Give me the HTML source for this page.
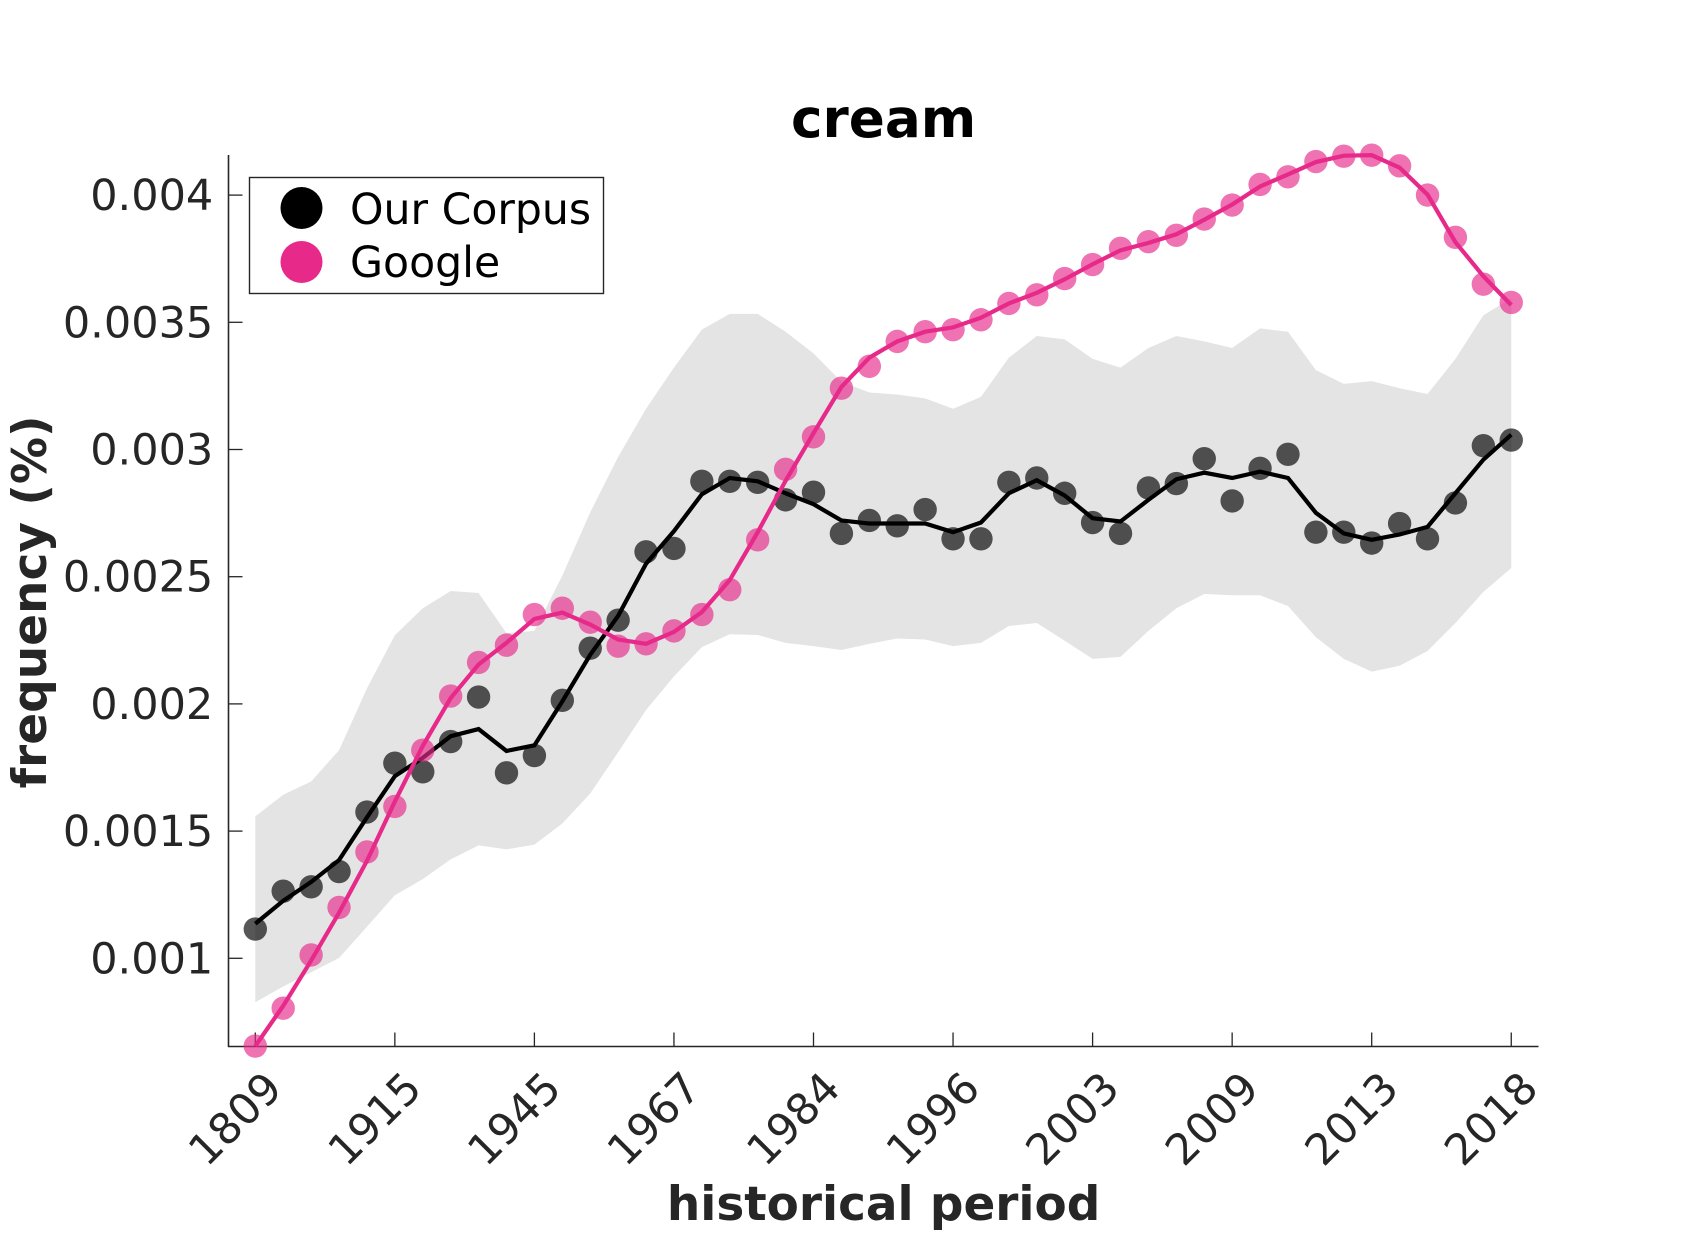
<!DOCTYPE html>
<html>
<head>
<meta charset="utf-8">
<title>cream</title>
<style>
html,body{margin:0;padding:0;background:#fff;width:1700px;height:1246px;overflow:hidden}
svg{display:block}
text{font-family:"DejaVu Sans","Liberation Sans",sans-serif}
</style>
</head>
<body>
<svg id="chart" xmlns="http://www.w3.org/2000/svg" width="1700" height="1246" viewBox="0 0 1700 1246">
<rect x="0" y="0" width="1700" height="1246" fill="#ffffff"/>
<g id="band-layer"></g>
<g id="axes"></g>
<g id="corpus-dots"></g>
<g id="corpus-line-layer"></g>
<g id="google-dots"></g>
<g id="google-line-layer"></g>
<text x="883.6" y="137" text-anchor="middle" font-size="53.2" font-weight="700" fill="#000000">cream</text>
<text x="883.6" y="1220" text-anchor="middle" font-size="46.9" font-weight="700" fill="#262626">historical period</text>
<text transform="translate(46 602) rotate(-90)" text-anchor="middle" font-size="47" font-weight="700" fill="#262626">frequency (%)</text>
<g>
<rect x="249.5" y="177.5" width="354" height="116" fill="#ffffff" stroke="#262626" stroke-width="1.4"/>
<circle cx="301.5" cy="208" r="21" fill="#000000"/>
<text x="350" y="224" font-size="42.6" fill="#000000">Our Corpus</text>
<circle cx="301.5" cy="262" r="21" fill="#e7298a"/>
<text x="350" y="277" font-size="42.6" fill="#000000">Google</text>
</g>
</svg>
<script>
const periodLabels = ["1809","1915","1945","1967","1984","1996","2003","2009","2013","2018"];
const yTickValues = [0.001,0.0015,0.002,0.0025,0.003,0.0035,0.004];
const yTickLabels = ["0.001","0.0015","0.002","0.0025","0.003","0.0035","0.004"];
const corpusPoints = [1.115,1.264,1.281,1.341,1.575,1.767,1.733,1.852,2.027,1.729,1.797,2.014,2.219,2.329,2.598,2.611,2.875,2.875,2.871,2.802,2.832,2.670,2.721,2.700,2.764,2.649,2.649,2.871,2.888,2.828,2.713,2.670,2.849,2.866,2.964,2.798,2.926,2.981,2.675,2.675,2.632,2.709,2.649,2.790,3.015,3.037];
const corpusSmooth = [1.136,1.226,1.300,1.386,1.554,1.716,1.788,1.873,1.901,1.815,1.837,2.010,2.193,2.346,2.551,2.679,2.824,2.888,2.875,2.828,2.785,2.721,2.709,2.709,2.709,2.675,2.713,2.828,2.879,2.819,2.730,2.717,2.802,2.883,2.909,2.888,2.913,2.888,2.751,2.670,2.645,2.666,2.696,2.828,2.960,3.058];
const googlePoints = [0.655,0.804,1.013,1.200,1.418,1.597,1.818,2.031,2.163,2.231,2.351,2.376,2.321,2.227,2.236,2.287,2.351,2.449,2.645,2.922,3.050,3.241,3.327,3.425,3.463,3.471,3.510,3.574,3.608,3.672,3.727,3.791,3.817,3.842,3.906,3.961,4.042,4.072,4.132,4.153,4.157,4.115,4.000,3.834,3.650,3.578];
const googleSmooth = [0.655,0.813,0.991,1.179,1.383,1.616,1.835,2.023,2.155,2.240,2.334,2.359,2.312,2.253,2.236,2.283,2.361,2.487,2.675,2.877,3.064,3.246,3.361,3.425,3.463,3.480,3.518,3.574,3.616,3.669,3.728,3.783,3.812,3.846,3.903,3.963,4.034,4.081,4.130,4.155,4.157,4.108,4.002,3.815,3.681,3.568];
const bandUpper = [1.558,1.643,1.695,1.818,2.061,2.270,2.376,2.444,2.436,2.278,2.287,2.504,2.753,2.971,3.160,3.322,3.471,3.533,3.533,3.463,3.378,3.267,3.224,3.216,3.201,3.160,3.207,3.361,3.446,3.433,3.356,3.322,3.399,3.446,3.425,3.399,3.476,3.463,3.312,3.258,3.269,3.241,3.218,3.356,3.527,3.595];
const bandLower = [0.827,0.889,0.945,1.001,1.124,1.248,1.311,1.389,1.444,1.428,1.447,1.530,1.648,1.810,1.976,2.108,2.223,2.274,2.271,2.240,2.227,2.212,2.236,2.257,2.253,2.227,2.240,2.306,2.318,2.248,2.177,2.185,2.287,2.376,2.432,2.427,2.427,2.385,2.262,2.177,2.127,2.150,2.208,2.318,2.440,2.534];

const NS = "http://www.w3.org/2000/svg";
const xOf = function (i) { return 255.3 + i * 27.91; };
const yOf = function (milli) { return 958.3 - (milli - 1) * 254.4; };
const yOfRaw = function (v) { return yOf(v * 1000); };
const layer = function (id) { return document.getElementById(id); };
const make = function (tag, parent) {
  const el = document.createElementNS(NS, tag);
  parent.appendChild(el);
  return el;
};
const toPath = function (arr) {
  return arr.map(function (v, i) { return xOf(i).toFixed(2) + "," + yOf(v).toFixed(2); }).join(" ");
};

const band = make("polygon", layer("band-layer"));


const bandBack = bandLower.slice().map(function (v, i) { return xOf(i).toFixed(2) + "," + yOf(v).toFixed(2); }).reverse().join(" ");
band.setAttribute("points", toPath(bandUpper) + " " + bandBack);
band.setAttribute("fill", "#e4e4e4");

corpusPoints.forEach(function (v, i) {
  const c = make("circle", layer("corpus-dots"));
  
  
  c.setAttribute("cx", xOf(i));
  c.setAttribute("cy", yOf(v));
  c.setAttribute("r", 11.7);
  c.setAttribute("fill", "#000000");
  c.setAttribute("fill-opacity", "0.66");
});

const corpusLine = make("polyline", layer("corpus-line-layer"));


corpusLine.setAttribute("points", toPath(corpusSmooth));
corpusLine.setAttribute("fill", "none");
corpusLine.setAttribute("stroke", "#000000");
corpusLine.setAttribute("stroke-width", "4.2");

googlePoints.forEach(function (v, i) {
  const c = make("circle", layer("google-dots"));
  
  
  c.setAttribute("cx", xOf(i));
  c.setAttribute("cy", yOf(v));
  c.setAttribute("r", 11.7);
  c.setAttribute("fill", "#e7298a");
  c.setAttribute("fill-opacity", "0.66");
});

const googleLine = make("polyline", layer("google-line-layer"));


googleLine.setAttribute("points", toPath(googleSmooth));
googleLine.setAttribute("fill", "none");
googleLine.setAttribute("stroke", "#e7298a");
googleLine.setAttribute("stroke-width", "4.2");

const axes = layer("axes");
const yAxis = make("line", axes);


yAxis.setAttribute("x1", 228.5);
yAxis.setAttribute("x2", 228.5);
yAxis.setAttribute("y1", 155);
yAxis.setAttribute("y2", 1047);
yAxis.setAttribute("stroke", "#262626");
yAxis.setAttribute("stroke-width", "1.6");

const xAxis = make("line", axes);


xAxis.setAttribute("x1", 228);
xAxis.setAttribute("x2", 1538.5);
xAxis.setAttribute("y1", 1046.5);
xAxis.setAttribute("y2", 1046.5);
xAxis.setAttribute("stroke", "#262626");
xAxis.setAttribute("stroke-width", "1.6");

yTickValues.forEach(function (v, i) {
  const y = yOfRaw(v);
  const t = make("line", axes);
  
  
  t.setAttribute("x1", 228.5);
  t.setAttribute("x2", 242.5);
  t.setAttribute("y1", y);
  t.setAttribute("y2", y);
  t.setAttribute("stroke", "#262626");
  t.setAttribute("stroke-width", "1.3");
  const l = make("text", axes);
  
  
  l.setAttribute("x", 213.3);
  l.setAttribute("y", y + 15);
  l.setAttribute("text-anchor", "end");
  l.setAttribute("font-size", "43");
  l.setAttribute("fill", "#262626");
  l.textContent = yTickLabels[i];
});

periodLabels.forEach(function (label, i) {
  const x = xOf(i * 5);
  const t = make("line", axes);
  
  
  t.setAttribute("x1", x);
  t.setAttribute("x2", x);
  t.setAttribute("y1", 1046.5);
  t.setAttribute("y2", 1032.5);
  t.setAttribute("stroke", "#262626");
  t.setAttribute("stroke-width", "1.3");
  const l = make("text", axes);
  
  
  l.setAttribute("transform", "translate(" + (x + 29) + " 1090.6) rotate(-45)");
  l.setAttribute("text-anchor", "end");
  l.setAttribute("font-size", "43");
  l.setAttribute("fill", "#262626");
  l.textContent = label;
});
</script>
</body>
</html>
